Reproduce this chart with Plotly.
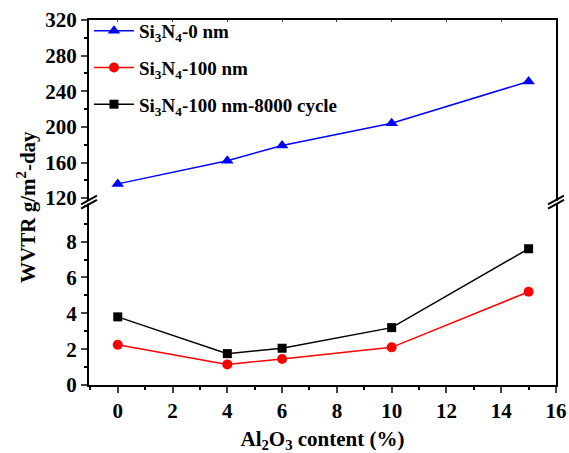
import plotly.graph_objects as go

# Data
al2o3 = [0, 4, 6, 10, 15]
si3n4_0nm = [136, 162, 179, 204, 251]
si3n4_100nm = [2.25, 1.15, 1.45, 2.1, 5.2]
si3n4_100nm_8000 = [3.8, 1.75, 2.05, 3.2, 7.6]

x_ticks = [0, 2, 4, 6, 8, 10, 12, 14, 16]
y_low_ticks = [0, 2, 4, 6, 8]
y_high_ticks = [120, 160, 200, 240, 280, 320]

FONT = "Liberation Serif"

def bold(vals):
    return ["<b>%s</b>" % v for v in vals]

fig = go.Figure()
fig.add_trace(go.Scatter(x=al2o3, y=si3n4_0nm, xaxis="x2", yaxis="y2", mode="lines+markers",
                         name="<b>Si<sub>3</sub>N<sub>4</sub>-0 nm</b>", legendgroup="a",
                         line=dict(color="#0000FF", width=1.5),
                         marker=dict(symbol="triangle-up", size=11, color="#0000FF")))
fig.add_trace(go.Scatter(x=al2o3, y=si3n4_100nm, xaxis="x", yaxis="y", mode="lines+markers",
                         name="<b>Si<sub>3</sub>N<sub>4</sub>-100 nm</b>", legendgroup="b",
                         line=dict(color="#FF0000", width=1.5),
                         marker=dict(symbol="circle", size=10, color="#FF0000")))
fig.add_trace(go.Scatter(x=al2o3, y=si3n4_100nm_8000, xaxis="x", yaxis="y", mode="lines+markers",
                         name="<b>Si<sub>3</sub>N<sub>4</sub>-100 nm-8000 cycle</b>", legendgroup="c",
                         line=dict(color="#000000", width=1.5),
                         marker=dict(symbol="square", size=9, color="#000000")))

brk = 0.501
axfont = dict(family=FONT, size=21, color="black")
xrange_ = [-1.05, 16]

fig.update_layout(
    width=569, height=453,
    margin=dict(l=89, r=13, t=16, b=68),
    paper_bgcolor="white", plot_bgcolor="white",
    font=dict(family=FONT, color="black"),
    showlegend=True,
    legend=dict(x=0.0, y=1.022, xanchor="left", yanchor="top", bgcolor="rgba(0,0,0,0)",
                font=dict(family=FONT, size=19, color="black"), tracegroupgap=9,
                itemwidth=40),
    xaxis=dict(domain=[0, 1], anchor="y", range=xrange_, tickvals=x_ticks, ticktext=bold(x_ticks),
               automargin=False,
               showline=True, linecolor="black", linewidth=2, ticks="outside", ticklen=6, tickwidth=2,
               minor=dict(dtick=1, tick0=0, ticks="outside", ticklen=3, tickwidth=1.5, tickcolor="black"),
               showgrid=False, zeroline=False, tickfont=axfont,
               title=dict(text="<b>Al<sub>2</sub>O<sub>3</sub> content (%)</b>",
                          font=dict(family=FONT, size=21, color="black"), standoff=9)),
    xaxis2=dict(domain=[0, 1], anchor="y2", matches="x", range=xrange_, side="top",
                automargin=False,
                showline=True, linecolor="black", linewidth=2, ticks="inside", ticklen=2, tickwidth=1,
                tickvals=x_ticks,
                showticklabels=False, showgrid=False, zeroline=False),
    yaxis=dict(domain=[0, brk], anchor="x", range=[0, 10.2], tickvals=y_low_ticks, ticktext=bold(y_low_ticks),
               automargin=False,
               showline=True, linecolor="black", linewidth=2, mirror=True,
               ticks="outside", ticklen=6, tickwidth=2,
               minor=dict(dtick=1, tick0=0, ticks="outside", ticklen=3, tickwidth=1.5, tickcolor="black"),
               showgrid=False, zeroline=False, tickfont=axfont),
    yaxis2=dict(domain=[brk, 1], anchor="x2", range=[115.5, 320], tickvals=y_high_ticks,
                ticktext=bold(y_high_ticks), automargin=False,
                showline=True, linecolor="black", linewidth=2, mirror=True,
                ticks="outside", ticklen=6, tickwidth=2,
                minor=dict(dtick=20, tick0=0, ticks="outside", ticklen=3, tickwidth=1.5, tickcolor="black"),
                showgrid=False, zeroline=False, tickfont=axfont),
)

# y-axis title spanning both panels
fig.add_annotation(text="<b>WVTR g/m<sup>2</sup>-day</b>", xref="paper", yref="paper",
                   x=(27 - 89) / 467, y=0.488, xanchor="center", yanchor="middle",
                   textangle=-90, showarrow=False,
                   font=dict(family=FONT, size=21, color="black"))

# axis break marks (//) at left and right axes
for xp in (0, 1):
    fig.add_shape(type="rect", xref="paper", yref="paper", x0=xp - 0.006, x1=xp + 0.006,
                  y0=brk - 0.004, y1=brk + 0.004, fillcolor="white", line=dict(width=0))
    for dy in (-0.006, 0.006):
        fig.add_shape(type="line", xref="paper", yref="paper",
                      x0=xp - 0.017, x1=xp + 0.017, y0=brk + dy - 0.012, y1=brk + dy + 0.012,
                      line=dict(color="black", width=2))

fig.write_html("out.html")
